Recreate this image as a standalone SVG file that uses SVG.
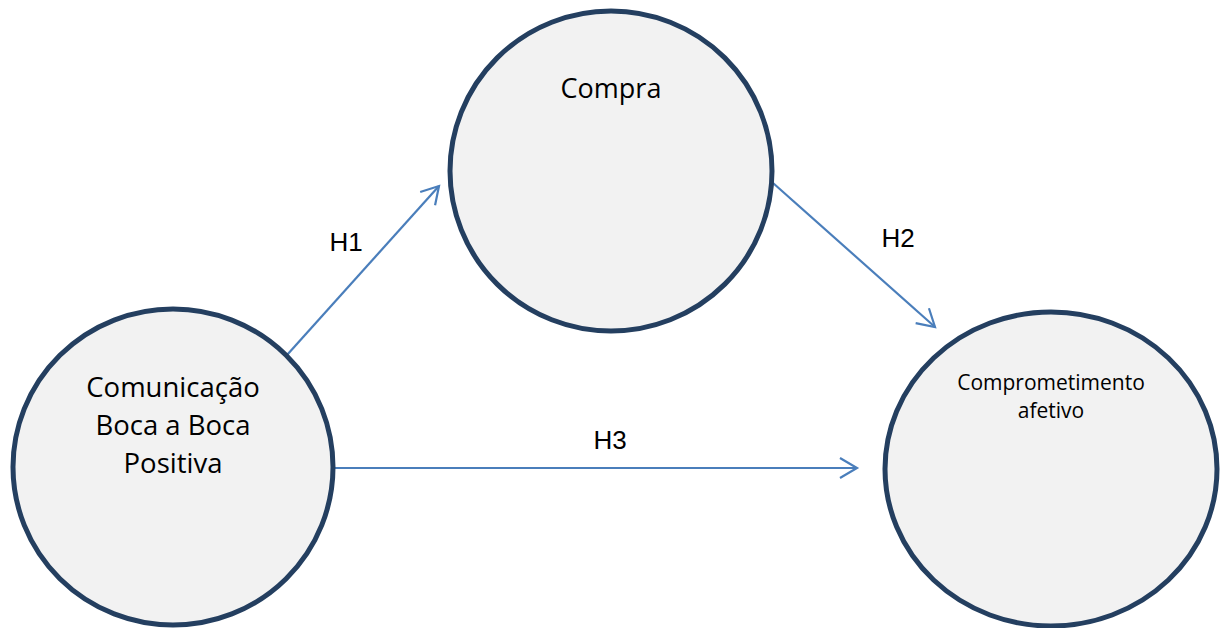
<svg xmlns="http://www.w3.org/2000/svg" width="1222" height="628" viewBox="0 0 1222 628">
<style>
.node{fill:#f2f2f2;stroke:#243f60;stroke-width:5}
.nt{font-family:"Open Sans","Liberation Sans",sans-serif;fill:#000;text-anchor:middle}
.lbl{font-family:"Liberation Sans",Arial,sans-serif;font-size:26px;fill:#000;text-anchor:middle}
.edge{stroke:#4a7ebb;stroke-width:2.2;fill:none}
</style>
<defs>
<marker id="arr" markerUnits="userSpaceOnUse" markerWidth="40" markerHeight="40" viewBox="-20 -20 40 40" refX="0" refY="0" orient="auto">
<path d="M -17 -10 L 0 0 L -17 10" fill="none" stroke="#4a7ebb" stroke-width="2.2"/>
</marker>
</defs>
<rect width="1222" height="628" fill="#fff"/>
<g id="connectors">
<line class="edge" x1="287" y1="355" x2="439" y2="186" marker-end="url(#arr)"/>
<line class="edge" x1="773" y1="183" x2="935" y2="327" marker-end="url(#arr)"/>
<line class="edge" x1="335" y1="468" x2="857" y2="468" marker-end="url(#arr)"/>
</g>
<g id="compra">
<ellipse class="node" cx="611" cy="171" rx="161" ry="160"/>
<text class="nt" x="611" y="98" font-size="27">Compra</text>
</g>
<g id="comunicacao">
<ellipse class="node" cx="173" cy="467" rx="160" ry="158"/>
<text class="nt" font-size="27.5"><tspan x="173" y="397">Comunicação</tspan><tspan x="173" y="435">Boca a Boca</tspan><tspan x="173" y="473">Positiva</tspan></text>
</g>
<g id="comprometimento">
<ellipse class="node" cx="1051" cy="469" rx="166" ry="157"/>
<text class="nt" font-size="21"><tspan x="1051" y="390">Comprometimento</tspan><tspan x="1051" y="418">afetivo</tspan></text>
</g>
<g id="labels">
<text class="lbl" x="346" y="251">H1</text>
<text class="lbl" x="898" y="247">H2</text>
<text class="lbl" x="610" y="449">H3</text>
</g>
</svg>
